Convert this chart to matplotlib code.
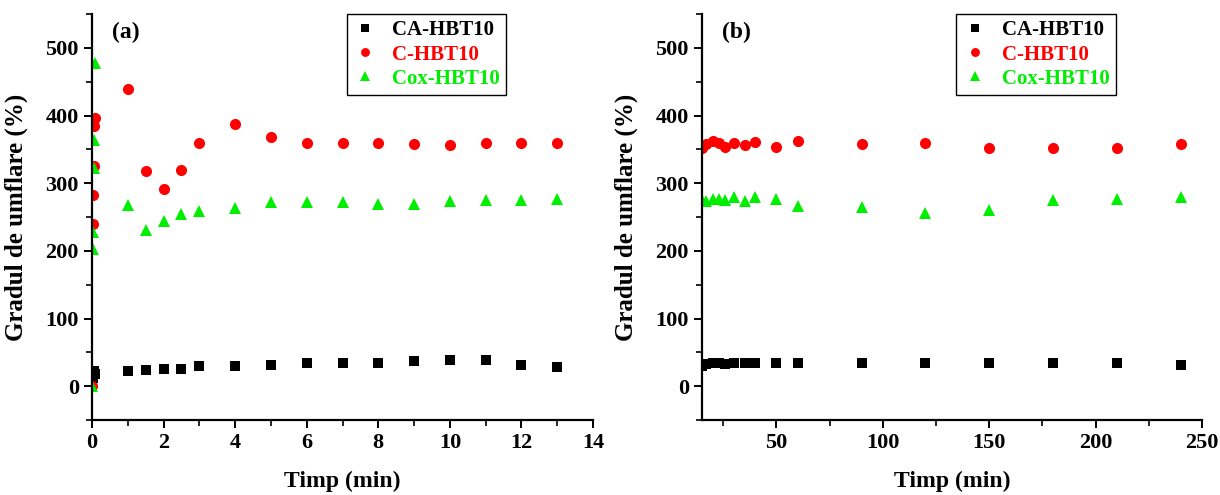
import numpy as np
import matplotlib.pyplot as plt
from matplotlib.ticker import MultipleLocator

# Set graph parameters.
plt.rcParams['font.family'] = 'Liberation Serif'
plt.rcParams['font.weight'] = 'bold'
plt.rcParams['axes.labelweight'] = 'bold'
plt.rcParams['font.size'] = 16
plt.rcParams['xtick.direction'] = 'out'
plt.rcParams['ytick.direction'] = 'out'
plt.rcParams['axes.linewidth'] = 1.6

# Panel (a): short times (min).
t_a = [0, 0.017, 0.033, 0.05, 0.067, 0.083,
       1, 1.5, 2, 2.5, 3, 4, 5, 6, 7, 8, 9, 10, 11, 12, 13]
ca_a = [0, 12, 15, 20, 22, 18,
        22, 24, 26, 26, 30, 30, 32, 34, 34, 35, 37, 39, 38, 31, 28]
c_a = [0, 240, 283, 325, 384, 396,
       439, 318, 292, 319, 360, 387, 368, 359, 359, 359, 358, 357, 360, 359, 359]
cox_a = [0, 203, 228, 322, 364, 477,
         268, 231, 244, 255, 259, 264, 272, 272, 272, 270, 269, 274, 275, 275, 277]

# Panel (b): long times (min).
t_b = [15, 17, 20, 23, 26, 30, 35, 40, 50, 60, 90, 120, 150, 180, 210, 240]
ca_b = [30, 33, 34, 34, 33, 34, 34, 34, 34, 34, 34, 34, 34, 34, 34, 32]
c_b = [352, 358, 362, 359, 354, 359, 357, 361, 353, 362, 358, 360, 352, 352, 352, 358]
cox_b = [275, 274, 276, 277, 275, 279, 273, 279, 276, 267, 265, 256, 261, 275, 277, 279]

series_names = ['CA-HBT10', 'C-HBT10', 'Cox-HBT10']
series_colors = ['black', '#ff0000', '#00ee00']
series_markers = ['s', 'o', '^']
series_sizes = [7, 8, 9]


def draw_panel(ax, t, values, panel_label):
    """ Draw one scatter panel with a coloured legend. """
    handles = []
    for idx, one_name in enumerate(series_names):
        h, = ax.plot(t, values[idx], linestyle='none', marker=series_markers[idx],
                     markersize=series_sizes[idx], color=series_colors[idx],
                     markeredgewidth=0, label=one_name)
        handles.append(h)
    ax.set_ylim(-50, 550)
    ax.yaxis.set_major_locator(MultipleLocator(100))
    ax.yaxis.set_minor_locator(MultipleLocator(50))
    ax.spines['top'].set_visible(False)
    ax.spines['right'].set_visible(False)
    ax.tick_params(which='major', length=6, width=1.4, labelsize=16)
    ax.tick_params(which='minor', length=4, width=1.2)
    ax.set_xlabel('Timp (min)', fontsize=17)
    ax.set_ylabel('Gradul de umflare (%)', fontsize=18)
    ax.text(0.04, 0.955, panel_label, transform=ax.transAxes, fontsize=17,
            fontweight='bold', va='center', ha='left')
    leg = ax.legend(handles=handles, loc='upper left', bbox_to_anchor=(0.508, 1.0),
                    borderaxespad=0, fancybox=False, edgecolor='black', framealpha=1,
                    handlelength=1.2, handletextpad=0.7, borderpad=0.3,
                    labelspacing=0.2, fontsize=15, markerscale=0.8)
    leg.get_frame().set_linewidth(1.0)
    for txt, col in zip(leg.get_texts(), series_colors):
        txt.set_color(col)


fig = plt.figure(figsize=(12.2, 4.95), dpi=100)
ax_a = fig.add_axes([0.0754, 0.1515, 0.4107, 0.820])
ax_b = fig.add_axes([0.5754, 0.1515, 0.4098, 0.820])

draw_panel(ax_a, t_a, [ca_a, c_a, cox_a], '(a)')
ax_a.set_xlim(0, 14)
ax_a.xaxis.set_major_locator(MultipleLocator(2))
ax_a.xaxis.set_minor_locator(MultipleLocator(1))

draw_panel(ax_b, t_b, [ca_b, c_b, cox_b], '(b)')
ax_b.set_xlim(15, 250)
ax_b.xaxis.set_major_locator(MultipleLocator(50))
ax_b.xaxis.set_minor_locator(MultipleLocator(25))

for ax in (ax_a, ax_b):
    ax.yaxis.set_label_coords(-0.128, 0.5)
    ax.xaxis.set_label_coords(0.5, -0.125)

fig.savefig('out.png', dpi=100)
plt.close()
